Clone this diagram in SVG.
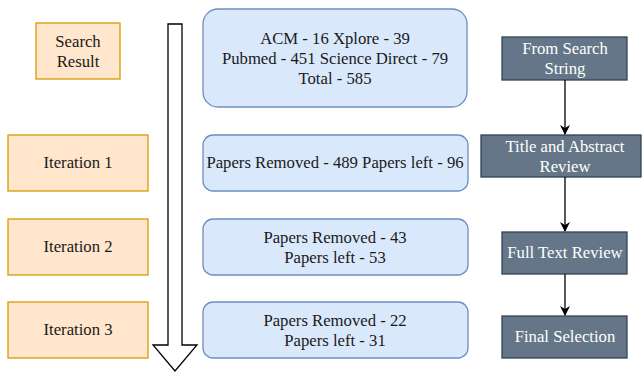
<svg xmlns="http://www.w3.org/2000/svg" width="642" height="373" viewBox="0 0 642 373" font-family="'Liberation Serif', 'Times New Roman', 'DejaVu Serif', serif" font-size="16.7">
<style>
text{font-family:'Liberation Serif','Times New Roman','DejaVu Serif',serif;font-size:16.7px;text-anchor:middle;}
.it rect{fill:#ffe6cc;stroke:#d79b00;stroke-width:1.3;}
.it text{fill:#1a1a1a;}
.bl rect{fill:#dae8fc;stroke:#6c8ebf;stroke-width:1.3;}
.bl text{fill:#1a1a1a;}
.dk rect{fill:#647687;stroke:#314354;stroke-width:1.3;}
.dk text{fill:#ffffff;}
.conn line{stroke:#000;stroke-width:1.3;}
</style>
<defs>
<marker id="ah" viewBox="0 0 10 10" refX="9" refY="5" markerWidth="10" markerHeight="10" markerUnits="userSpaceOnUse" orient="auto">
<path d="M0,0 L10,5 L0,10 L3,5 Z" fill="#000"/>
</marker>
</defs>
<rect width="642" height="373" fill="#fff"/>
<g id="search-result" class="it"><rect x="36" y="23" width="84" height="56"/><text x="78" y="47">Search</text><text x="78" y="67">Result</text></g>
<g id="iteration-1" class="it"><rect x="8" y="135" width="140" height="56"/><text x="78" y="168">Iteration 1</text></g>
<g id="iteration-2" class="it"><rect x="8" y="219" width="140" height="56"/><text x="78" y="252">Iteration 2</text></g>
<g id="iteration-3" class="it"><rect x="8" y="302" width="140" height="56"/><text x="78" y="335">Iteration 3</text></g>
<g id="flow-arrow"><path d="M168,24 L182,24 L182,345 L197,345 L175,371 L153,345 L168,345 Z" fill="#fff" stroke="#000" stroke-width="1.3"/></g>
<g id="counts-search" class="bl"><rect x="203" y="9" width="264" height="98" rx="15"/><text x="335" y="44">ACM - 16 Xplore - 39</text><text x="335" y="64">Pubmed - 451 Science Direct - 79</text><text x="335" y="84">Total - 585</text></g>
<g id="counts-1" class="bl"><rect x="203" y="135" width="265" height="56" rx="10"/><text x="335" y="168">Papers Removed - 489 Papers left - 96</text></g>
<g id="counts-2" class="bl"><rect x="203" y="219" width="265" height="56" rx="10"/><text x="335" y="243">Papers Removed - 43</text><text x="335" y="263">Papers left - 53</text></g>
<g id="counts-3" class="bl"><rect x="203" y="302" width="265" height="56" rx="10"/><text x="335" y="326">Papers Removed - 22</text><text x="335" y="346">Papers left - 31</text></g>
<g id="from-search-string" class="dk"><rect x="502" y="37" width="125" height="43"/><text x="565" y="54">From Search</text><text x="565" y="74">String</text></g>
<g id="title-abstract" class="dk"><rect x="481" y="135" width="160" height="42"/><text x="565" y="152">Title and Abstract</text><text x="565" y="172">Review</text></g>
<g id="full-text" class="dk"><rect x="502" y="232" width="125" height="42"/><text x="565" y="258">Full Text Review</text></g>
<g id="final-selection" class="dk"><rect x="502" y="316" width="125" height="42"/><text x="565" y="342">Final Selection</text></g>
<g id="connectors" class="conn">
<line x1="565" y1="80" x2="565" y2="134" marker-end="url(#ah)"/>
<line x1="565" y1="177" x2="565" y2="231" marker-end="url(#ah)"/>
<line x1="565" y1="274" x2="565" y2="315" marker-end="url(#ah)"/>
</g>
</svg>
